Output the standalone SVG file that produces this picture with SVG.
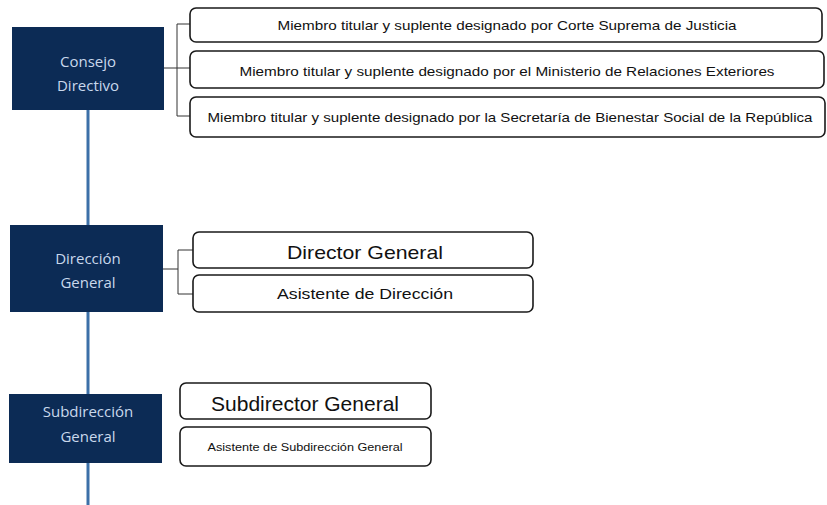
<svg xmlns="http://www.w3.org/2000/svg" width="827" height="505" viewBox="0 0 827 505">
<style>
.unit{fill:#0c2b55;}
.ut{fill:#c9d8ec;font-family:"Open Sans","Liberation Sans",sans-serif;font-size:15px;text-anchor:middle;}
.mb{fill:#fff;stroke:#1a1a1a;stroke-width:1.6;}
.mt{fill:#111;font-family:"Liberation Sans","Open Sans",sans-serif;text-anchor:middle;}
.spine{stroke:#3c70a8;stroke-width:3;fill:none;}
.br{stroke:#333;stroke-width:1;fill:none;}
</style>
<rect width="827" height="505" fill="#fff"/>
<g id="connectors">
<line class="spine" x1="88" y1="110" x2="88" y2="505"/>
<path class="br" d="M164 68H177M177 24V116M177 24H190M177 68H190M177 116H190"/>
<path class="br" d="M163 269H178M178 250V294M178 250H193M178 294H193"/>
</g>
<g id="consejo">
<rect class="unit" x="12" y="27" width="152" height="83"/>
<text class="ut" x="88" y="67">Consejo</text>
<text class="ut" x="88" y="91">Directivo</text>
</g>
<g id="direccion">
<rect class="unit" x="10" y="225" width="153" height="87"/>
<text class="ut" x="88" y="264">Dirección</text>
<text class="ut" x="88" y="288">General</text>
</g>
<g id="subdireccion">
<rect class="unit" x="9" y="394" width="153" height="69"/>
<text class="ut" x="88" y="417">Subdirección</text>
<text class="ut" x="88" y="442">General</text>
</g>
<g id="m1">
<rect class="mb" x="190" y="8" width="632" height="34" rx="6"/>
<text class="mt" x="507" y="30" font-size="13" textLength="459" lengthAdjust="spacingAndGlyphs">Miembro titular y suplente designado por Corte Suprema de Justicia</text>
</g>
<g id="m2">
<rect class="mb" x="190" y="51" width="634" height="37" rx="6"/>
<text class="mt" x="507" y="76" font-size="13" textLength="535" lengthAdjust="spacingAndGlyphs">Miembro titular y suplente designado por el Ministerio de Relaciones Exteriores</text>
</g>
<g id="m3">
<rect class="mb" x="190" y="97" width="635" height="40" rx="6"/>
<text class="mt" x="510" y="122" font-size="13" textLength="605" lengthAdjust="spacingAndGlyphs">Miembro titular y suplente designado por la Secretaría de Bienestar Social de la República</text>
</g>
<g id="director">
<rect class="mb" x="193" y="232" width="340" height="36" rx="6"/>
<text class="mt" x="365" y="259" font-size="19" textLength="156" lengthAdjust="spacingAndGlyphs">Director General</text>
</g>
<g id="asistente-dir">
<rect class="mb" x="193" y="275" width="340" height="37" rx="6"/>
<text class="mt" x="365" y="299" font-size="15" textLength="176" lengthAdjust="spacingAndGlyphs">Asistente de Dirección</text>
</g>
<g id="subdirector">
<rect class="mb" x="180" y="383" width="251" height="36" rx="6"/>
<text class="mt" x="305" y="411" font-size="21" textLength="188" lengthAdjust="spacingAndGlyphs">Subdirector General</text>
</g>
<g id="asistente-sub">
<rect class="mb" x="180" y="427" width="251" height="39" rx="6"/>
<text class="mt" x="305" y="451" font-size="10" textLength="195" lengthAdjust="spacingAndGlyphs">Asistente de Subdirección General</text>
</g>
</svg>
